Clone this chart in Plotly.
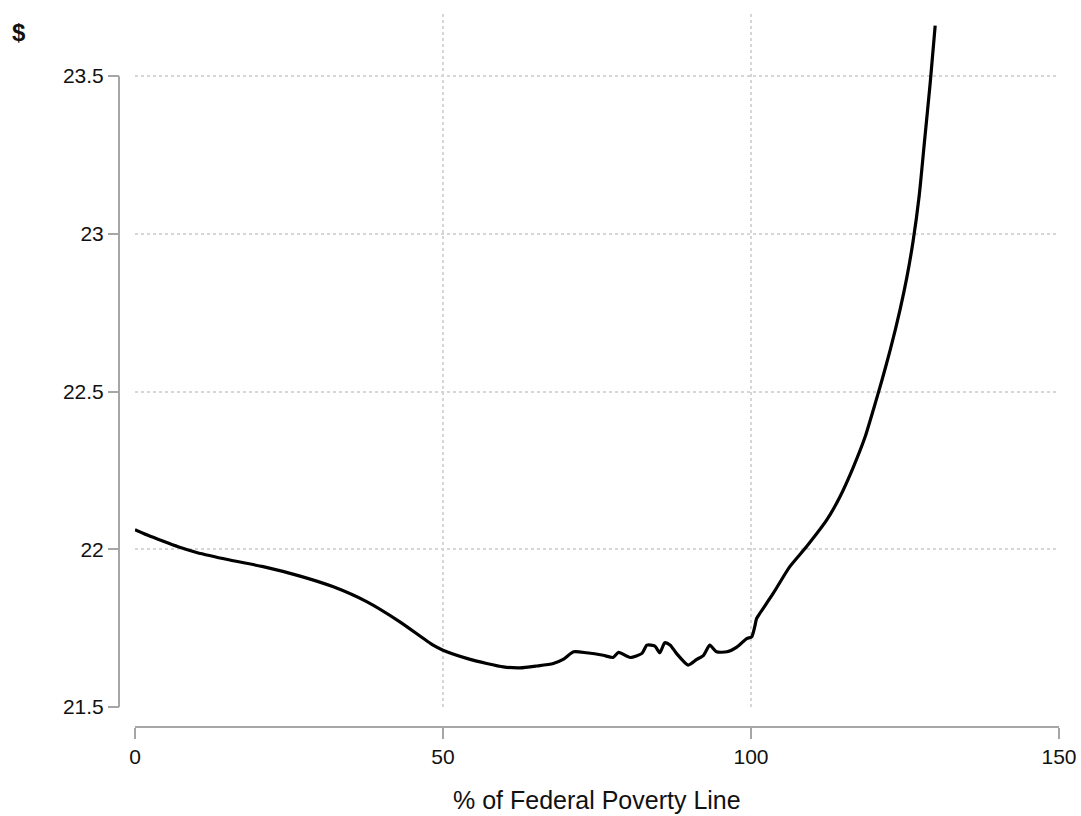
import plotly.graph_objects as go

# Data
fpl_pct = [0, 2, 4.5, 7, 10, 15.4, 20.8, 26.8, 32.2, 37.6, 43, 48.4, 50,
           54.4, 57.1, 59.8, 62.5, 65.2, 67.9, 69.5, 71.2, 73.3, 76.0, 77.6,
           78.5, 80.4, 82.3, 83.1, 84.4, 85.2, 86.0, 86.9, 87.9, 89.8, 91.2,
           92.3, 93.3, 94.4, 96.1, 97.7, 99.3, 100.1, 100.6, 100.9, 101.2,
           103.6, 106.3, 109, 112.3, 114.4, 116.6, 118.5, 119.9, 121.2, 122.6,
           124.2, 125.3, 126.3, 127.3, 128.2, 129.1, 129.9]
dollars = [22.062, 22.045, 22.026, 22.008, 21.990, 21.966, 21.945, 21.915,
           21.881, 21.834, 21.770, 21.696, 21.680, 21.651, 21.638, 21.627,
           21.624, 21.630, 21.638, 21.651, 21.675, 21.672, 21.664, 21.657,
           21.673, 21.657, 21.670, 21.696, 21.693, 21.672, 21.704, 21.696,
           21.670, 21.633, 21.651, 21.664, 21.696, 21.675, 21.675, 21.690,
           21.717, 21.722, 21.754, 21.780, 21.790, 21.860, 21.945, 22.008,
           22.093, 22.165, 22.260, 22.355, 22.445, 22.532, 22.632, 22.760,
           22.862, 22.975, 23.120, 23.300, 23.480, 23.660]

x_ticks = [0, 50, 100, 150]
y_ticks = [21.5, 22, 22.5, 23, 23.5]
y_tick_labels = ["21.5", "22", "22.5", "23", "23.5"]
x_title = "% of Federal Poverty Line"
y_title = "$"

FONT = "Liberation Sans, Arial, Helvetica, sans-serif"
AXIS_COLOR = "#a6a6a6"
GRID_COLOR = "#d6d6d6"
TEXT_COLOR = "#111111"

fig = go.Figure()
fig.add_trace(go.Scatter(x=fpl_pct, y=dollars, mode="lines",
                         line=dict(color="black", width=3.2, shape="spline",
                                   smoothing=0.6),
                         showlegend=False, hoverinfo="skip"))

y_axis_pos = 0.00948
fig.update_layout(
    width=1081, height=816,
    margin=dict(l=110, r=22, t=14, b=76),
    paper_bgcolor="white", plot_bgcolor="white",
    font=dict(family=FONT, size=21, color=TEXT_COLOR),
    xaxis=dict(domain=[0.02634, 1], range=[0, 150], anchor="free",
               position=0.0179, tickvals=x_ticks, ticks="outside",
               ticklen=11, tickwidth=2, tickcolor=AXIS_COLOR,
               showline=True, linecolor=AXIS_COLOR, linewidth=2,
               showgrid=True, gridcolor=GRID_COLOR, griddash="dot",
               gridwidth=1.5, zeroline=False, automargin=False,
               tickfont=dict(size=21, family=FONT, color=TEXT_COLOR)),
    yaxis=dict(domain=[0.04545, 1], range=[21.5, 23.697], anchor="free",
               position=y_axis_pos, tickvals=y_ticks, ticktext=y_tick_labels,
               ticks="outside", ticklen=11, tickwidth=2, tickcolor=AXIS_COLOR,
               showline=False, showgrid=True, gridcolor=GRID_COLOR,
               griddash="dot", gridwidth=1.5, zeroline=False, automargin=False,
               tickfont=dict(size=21, family=FONT, color=TEXT_COLOR)),
)

# y axis line spanning only the labelled range (Stata style)
fig.add_shape(type="line", xref="paper", yref="y",
              x0=y_axis_pos, x1=y_axis_pos, y0=y_ticks[0], y1=y_ticks[-1],
              line=dict(color=AXIS_COLOR, width=2), layer="below")

fig.add_annotation(text="<b>" + y_title + "</b>", xref="paper", yref="paper",
                   x=-0.0959, y=0.975, xanchor="center", yanchor="middle",
                   showarrow=False,
                   font=dict(size=24, family=FONT, color=TEXT_COLOR))
fig.add_annotation(text=x_title, xref="paper", yref="paper",
                   x=0.513, y=-0.0826, xanchor="center", yanchor="middle",
                   showarrow=False,
                   font=dict(size=25, family=FONT, color=TEXT_COLOR))

fig.write_html("out.html",
               config={"displayModeBar": False},
               post_script="document.body.style.margin='0';"
                           "document.body.style.padding='0';")
